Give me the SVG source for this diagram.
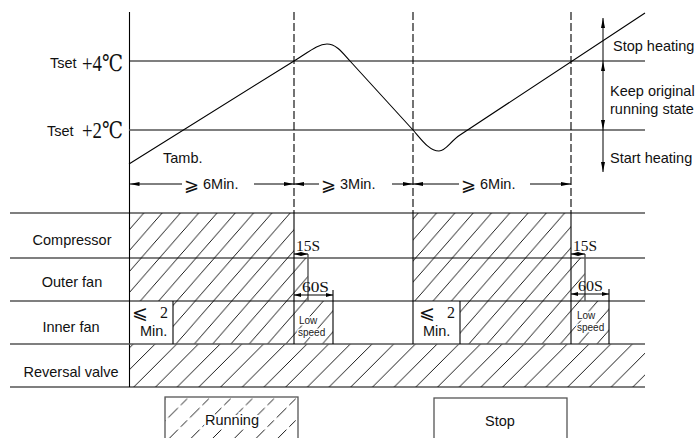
<svg xmlns="http://www.w3.org/2000/svg" width="697" height="438" viewBox="0 0 697 438">
<style>
.ln{stroke:#000;stroke-width:1.1;fill:none}
.gl{stroke:#555;stroke-width:1.4;fill:none}
.dash{stroke:#000;stroke-width:1.1;fill:none;stroke-dasharray:8 3}
.t{font-family:"Liberation Sans",Arial,sans-serif;font-size:14.5px;fill:#111}
.s{font-family:"Liberation Serif","Times New Roman","DejaVu Serif",serif;fill:#111}
.sm{font-family:"Liberation Sans",Arial,sans-serif;font-size:10px;fill:#222;stroke:#fff;stroke-width:3;paint-order:stroke}
.sym{font-family:"DejaVu Sans","Noto Sans",sans-serif;fill:#111}
.ar{stroke:#000;stroke-width:1;fill:none}
</style>
<defs>
<pattern id="h1" patternUnits="userSpaceOnUse" width="18.3" height="21">
<path d="M-1.83,23.1 L20.13,-2.1" stroke="#000" stroke-width="0.9"/>
</pattern>
<pattern id="h2" patternUnits="userSpaceOnUse" width="21.7" height="21.7">
<path d="M-2,23.7 L23.7,-2" stroke="#000" stroke-width="0.9"/>
</pattern>
<pattern id="h3" patternUnits="userSpaceOnUse" width="21.7" height="21.7">
<path d="M-2,23.7 L23.7,-2" stroke="#000" stroke-width="0.9" stroke-dasharray="9 4"/>
</pattern>
<marker id="a" viewBox="0 0 10 4" refX="10" refY="2" markerWidth="10" markerHeight="4" markerUnits="userSpaceOnUse" orient="auto-start-reverse">
<path d="M0,0 L10,2 L0,4 Z" fill="#000"/>
</marker>
<marker id="b" viewBox="0 0 7 4" refX="7" refY="2" markerWidth="7" markerHeight="4" markerUnits="userSpaceOnUse" orient="auto-start-reverse">
<path d="M0,0 L7,2 L0,4 Z" fill="#000"/>
</marker>
</defs>

<g id="hatching">
<rect x="129" y="213" width="165" height="45" fill="url(#h1)"/>
<rect x="413" y="213" width="158" height="45" fill="url(#h1)"/>
<rect x="129" y="258" width="179" height="43" fill="url(#h1)"/>
<rect x="413" y="258" width="172" height="43" fill="url(#h1)"/>
<rect x="173" y="301" width="160" height="43" fill="url(#h1)"/>
<rect x="460" y="301" width="149" height="43" fill="url(#h1)"/>
<rect x="129" y="344" width="516" height="43" fill="url(#h2)"/>
</g>

<g id="axes">
<line class="ln" x1="129.5" y1="12" x2="129.5" y2="387"/>
<line class="ln" x1="129" y1="61" x2="645" y2="61"/>
<line class="gl" x1="129" y1="130" x2="645" y2="130"/>
<line class="dash" x1="294" y1="12" x2="294" y2="213"/>
<line class="dash" x1="413" y1="12" x2="413" y2="213"/>
<line class="dash" x1="571" y1="12" x2="571" y2="213"/>
</g>

<g id="table">
<line class="ln" x1="10" y1="213" x2="645" y2="213"/>
<line class="ln" x1="10" y1="258" x2="645" y2="258"/>
<line class="ln" x1="10" y1="301" x2="645" y2="301"/>
<line class="gl" x1="10" y1="344" x2="645" y2="344"/>
<line class="ln" x1="10" y1="387" x2="645" y2="387"/>
<line class="ln" x1="294" y1="213" x2="294" y2="344"/>
<line class="ln" x1="413" y1="213" x2="413" y2="344"/>
<line class="ln" x1="571" y1="213" x2="571" y2="344"/>
<line class="gl" x1="308" y1="254" x2="308" y2="301"/>
<line class="gl" x1="585" y1="254" x2="585" y2="301"/>
<line class="ln" x1="333" y1="290" x2="333" y2="344"/>
<line class="ln" x1="609" y1="289" x2="609" y2="344"/>
<line class="ln" x1="173" y1="301" x2="173" y2="344"/>
<line class="ln" x1="460" y1="301" x2="460" y2="344"/>
</g>

<g id="curve">
<path class="ln" d="M129,164 L294,61 C310,51 318,44 327,44 C336,44 342,52 350,61 L413,130 C421,139 429,151 439,151 C446,151 450,141.6 460,135 L645,13"/>
</g>

<g id="connectors">
<line class="ar" x1="129.5" y1="184" x2="182" y2="184" marker-start="url(#a)"/>
<line class="ar" x1="254" y1="184" x2="294" y2="184" marker-end="url(#a)"/>
<line class="ar" x1="294" y1="184" x2="319" y2="184" marker-start="url(#a)"/>
<line class="ar" x1="392" y1="184" x2="413" y2="184" marker-end="url(#a)"/>
<line class="ar" x1="413" y1="184" x2="459" y2="184" marker-start="url(#a)"/>
<line class="ar" x1="530" y1="184" x2="571" y2="184" marker-end="url(#a)"/>
<line class="ar" x1="603" y1="61" x2="603" y2="18" marker-end="url(#a)"/>
<line class="ar" x1="603" y1="61" x2="603" y2="130" marker-start="url(#a)" marker-end="url(#a)"/>
<line class="ar" x1="603" y1="130" x2="603" y2="172" marker-end="url(#a)"/>
<line class="ar" x1="294" y1="254" x2="308" y2="254" marker-start="url(#b)" marker-end="url(#b)"/>
<line class="ar" x1="571" y1="254" x2="585" y2="254" marker-start="url(#b)" marker-end="url(#b)"/>
<line class="ar" x1="294" y1="295" x2="333" y2="295" stroke-width="1.6" marker-start="url(#b)" marker-end="url(#b)"/>
<line class="ar" x1="571" y1="294" x2="609" y2="294" stroke-width="1.6" marker-start="url(#b)" marker-end="url(#b)"/>
</g>

<g id="temp-labels">
<text class="t" x="50" y="68">Tset</text>
<text class="s" x="82" y="71" font-size="23" textLength="41" lengthAdjust="spacingAndGlyphs">+4℃</text>
<text class="t" x="47" y="136">Tset</text>
<text class="s" x="82" y="138" font-size="23" textLength="41" lengthAdjust="spacingAndGlyphs">+2℃</text>
<text class="t" x="163" y="163">Tamb.</text>
</g>

<g id="time-labels">
<text class="sym" x="184" y="191" font-size="18">⩾</text><text class="t" x="203" y="189">6Min.</text>
<text class="sym" x="321" y="191" font-size="18">⩾</text><text class="t" x="340" y="189">3Min.</text>
<text class="sym" x="461" y="191" font-size="18">⩾</text><text class="t" x="480" y="189">6Min.</text>
</g>

<g id="state-labels">
<text class="t" x="613" y="51">Stop heating</text>
<text class="t" x="610" y="96">Keep original</text>
<text class="t" x="610" y="114">running state</text>
<text class="t" x="610" y="163">Start heating</text>
</g>

<g id="row-labels">
<text class="t" x="72" y="245" text-anchor="middle">Compressor</text>
<text class="t" x="72" y="287" text-anchor="middle">Outer fan</text>
<text class="t" x="71" y="332" text-anchor="middle">Inner fan</text>
<text class="t" x="71" y="377" text-anchor="middle">Reversal valve</text>
</g>

<g id="timing-labels">
<text class="s" x="296" y="251" font-size="15" textLength="24" lengthAdjust="spacingAndGlyphs">15S</text>
<text class="s" x="302" y="292" font-size="15" textLength="27" lengthAdjust="spacingAndGlyphs">60S</text>
<text class="s" x="573" y="251" font-size="15" textLength="24" lengthAdjust="spacingAndGlyphs">15S</text>
<text class="s" x="578" y="291" font-size="15" textLength="25" lengthAdjust="spacingAndGlyphs">60S</text>
<text class="sym" x="132" y="319" font-size="19">⩽</text><text class="s" x="160" y="318" font-size="16">2</text>
<text class="t" x="140" y="336">Min.</text>
<text class="sym" x="419" y="319" font-size="19">⩽</text><text class="s" x="447" y="318" font-size="16">2</text>
<text class="t" x="423" y="336">Min.</text>
<text class="sm" x="299" y="324">Low</text>
<text class="sm" x="298" y="336">speed</text>
<text class="sm" x="577" y="319">Low</text>
<text class="sm" x="577" y="331">speed</text>
</g>

<g id="legend-running">
<rect x="165" y="397" width="133" height="50" fill="url(#h3)" stroke="#555" stroke-width="1.3"/>
<text class="t" x="232" y="425" text-anchor="middle" stroke="#fff" stroke-width="4" paint-order="stroke">Running</text>
</g>
<g id="legend-stop">
<rect x="434" y="398" width="133" height="50" fill="none" stroke="#555" stroke-width="1.3"/>
<text class="t" x="500" y="426" text-anchor="middle">Stop</text>
</g>
</svg>
